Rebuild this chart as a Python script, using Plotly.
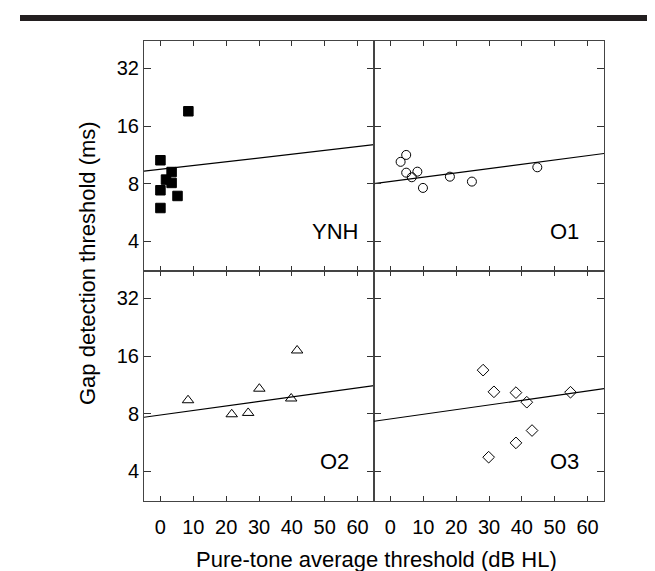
import math
import plotly.graph_objects as go

# ---- data ----
groups = ["YNH", "O1", "O2", "O3"]

ynh_pta = [8.5, 0.0, 3.4, 1.7, 3.4, 0.0, 5.2, 0.0]
ynh_gap = [19.1, 10.6, 9.2, 8.4, 8.07, 7.39, 6.9, 5.97]

o1_pta = [3.1, 4.8, 4.8, 6.5, 8.2, 9.9, 18.1, 24.8, 44.7]
o1_gap = [10.4, 11.3, 9.13, 8.64, 9.24, 7.6, 8.7, 8.2, 9.74]

o2_pta = [8.4, 21.7, 26.7, 30.1, 39.8, 41.6]
o2_gap = [9.4, 7.94, 8.07, 10.8, 9.6, 17.1]

o3_pta = [28.2, 31.5, 38.2, 41.5, 54.8, 43.1, 38.2, 29.9]
o3_gap = [13.5, 10.4, 10.3, 9.18, 10.35, 6.53, 5.63, 4.74]

# regression line values at the x-axis ends (-5 and 65 dB HL)
fit_x = [-5, 65]
ynh_fit = [9.29, 12.78]
o1_fit = [8.0, 11.5]
o2_fit = [7.66, 11.2]
o3_fit = [7.30, 10.8]

x_ticks = [0, 10, 20, 30, 40, 50, 60]
y_ticks = [4, 8, 16, 32]

# ---- figure ----
FONT = "Liberation Sans, Arial, sans-serif"
W, H = 655, 571
L, R, T, B = 136, 59, 33, 78

fig = go.Figure()

series = [
    (ynh_pta, ynh_gap, ynh_fit, dict(symbol="square", size=9.5, color="black",
                                     line=dict(color="black", width=1))),
    (o1_pta, o1_gap, o1_fit, dict(symbol="circle-open", size=9, color="black",
                                  line=dict(color="black", width=1))),
    (o2_pta, o2_gap, o2_fit, dict(symbol="triangle-up-open", size=10, color="black",
                                  line=dict(color="black", width=1))),
    (o3_pta, o3_gap, o3_fit, dict(symbol="diamond-open", size=9, color="black",
                                  line=dict(color="black", width=1))),
]

axis_suffix = ["", "2", "3", "4"]
for i, (px, gy, fy, mk) in enumerate(series):
    xa = "x" + axis_suffix[i]
    ya = "y" + axis_suffix[i]
    fig.add_trace(go.Scatter(x=fit_x, y=fy, mode="lines",
                             line=dict(color="black", width=1.2),
                             xaxis=xa, yaxis=ya, showlegend=False, hoverinfo="skip"))
    fig.add_trace(go.Scatter(x=px, y=gy, mode="markers", marker=mk,
                             xaxis=xa, yaxis=ya, showlegend=False))

xrange = [-5, 65]
yrange = [0.447, 1.648]

line_col = "#444444"
common_x = dict(range=xrange, tickvals=x_ticks, ticks="inside", ticklen=5,
                tickcolor="#333333", tickwidth=1, showline=True, linecolor=line_col,
                linewidth=1, mirror="allticks", showgrid=False, zeroline=False,
                tickfont=dict(family=FONT, size=20, color="black"), fixedrange=True)
common_y = dict(type="log", range=yrange, tickvals=y_ticks, ticktext=[str(v) for v in y_ticks],
                ticks="inside", ticklen=7, tickcolor="#333333", tickwidth=1, showline=True,
                linecolor=line_col, linewidth=1, mirror="allticks", showgrid=False,
                zeroline=False, tickfont=dict(family=FONT, size=20, color="black"),
                fixedrange=True)

fig.update_layout(
    xaxis=dict(common_x, domain=[0, 0.5], anchor="y", showticklabels=False),
    yaxis=dict(common_y, domain=[0.5, 1], anchor="x", showticklabels=True),
    xaxis2=dict(common_x, domain=[0.5, 1], anchor="y2", showticklabels=False),
    yaxis2=dict(common_y, domain=[0.5, 1], anchor="x2", showticklabels=False),
    xaxis3=dict(common_x, domain=[0, 0.5], anchor="y3", showticklabels=True,
                ticklabelstandoff=8),
    yaxis3=dict(common_y, domain=[0, 0.5], anchor="x3", showticklabels=True),
    xaxis4=dict(common_x, domain=[0.5, 1], anchor="y4", showticklabels=True,
                ticklabelstandoff=8),
    yaxis4=dict(common_y, domain=[0, 0.5], anchor="x4", showticklabels=False),
)

# panel labels
label_y = math.log10(4.48)
for i, g in enumerate(groups):
    fig.add_annotation(text=g, x=53, y=label_y, xref="x" + axis_suffix[i],
                       yref="y" + axis_suffix[i], showarrow=False,
                       font=dict(family=FONT, size=22, color="black"),
                       xanchor="center", yanchor="middle")

pw = W - L - R
ph = H - T - B
# axis titles
fig.add_annotation(text="Pure-tone average threshold (dB HL)", xref="paper", yref="paper",
                   x=(368 - L) / pw, y=(H - B - 551) / ph, showarrow=False,
                   font=dict(family=FONT, size=22, color="black"),
                   xanchor="center", yanchor="middle")
fig.add_annotation(text="Gap detection threshold (ms)", xref="paper", yref="paper",
                   x=(79 - L) / pw, y=(H - B - 255) / ph, showarrow=False, textangle=-90,
                   font=dict(family=FONT, size=22, color="black"),
                   xanchor="center", yanchor="middle")

# top thick rule
fig.add_shape(type="rect", xref="paper", yref="paper",
              x0=(12 - L) / pw, x1=(653 - L) / pw,
              y0=(H - B - 13) / ph, y1=(H - B - 7) / ph,
              fillcolor="#231f20", line=dict(width=0))

fig.update_layout(width=W, height=H, margin=dict(l=L, r=R, t=T, b=B),
                  paper_bgcolor="white", plot_bgcolor="white",
                  font=dict(family=FONT, color="black"))

fig.write_html("out.html")
